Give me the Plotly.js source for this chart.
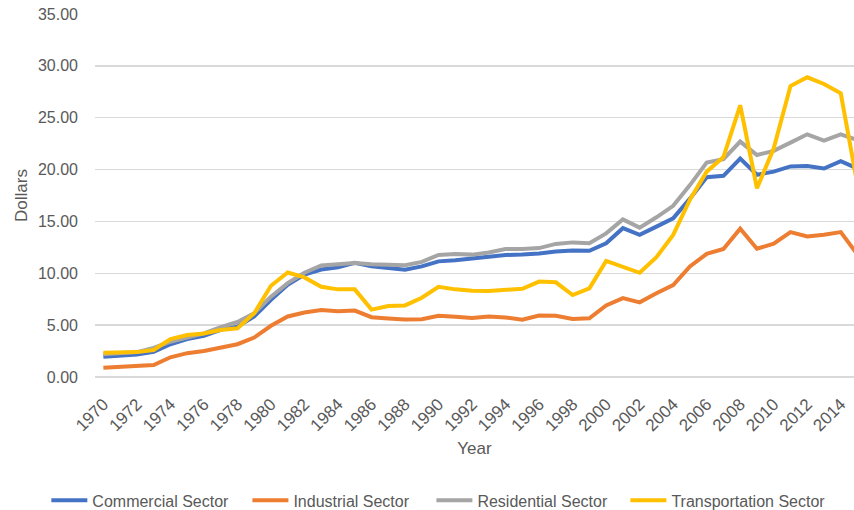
<!DOCTYPE html>
<html>
<head>
<meta charset="utf-8">
<script src="https://cdn.plot.ly/plotly-3.0.1.min.js"></script>
<style>html,body{margin:0;padding:0;background:#fff;}#chart{width:854px;height:510px;}</style>
</head>
<body>
<div id="chart"></div>
<script>
var years = [1970,1971,1972,1973,1974,1975,1976,1977,1978,1979,1980,1981,1982,1983,1984,1985,1986,1987,1988,1989,1990,1991,1992,1993,1994,1995,1996,1997,1998,1999,2000,2001,2002,2003,2004,2005,2006,2007,2008,2009,2010,2011,2012,2013,2014,2015];
var commercial = [1.95,2.03,2.16,2.42,3.16,3.65,3.97,4.55,4.85,5.84,7.45,8.9,9.87,10.36,10.57,11.0,10.67,10.5,10.35,10.67,11.15,11.25,11.4,11.58,11.77,11.8,11.9,12.1,12.2,12.17,12.9,14.35,13.7,14.5,15.3,17.2,19.26,19.4,21.06,19.5,19.8,20.3,20.35,20.1,20.8,20.1];
var industrial = [0.9,1.0,1.06,1.16,1.9,2.3,2.5,2.87,3.16,3.8,4.94,5.84,6.22,6.45,6.35,6.4,5.77,5.64,5.54,5.58,5.9,5.8,5.68,5.83,5.74,5.52,5.93,5.9,5.6,5.66,6.9,7.6,7.2,8.07,8.87,10.66,11.87,12.35,14.3,12.37,12.85,13.97,13.55,13.72,13.97,11.8];
var residential = [2.2,2.3,2.4,2.8,3.4,3.8,4.2,4.8,5.3,6.15,7.75,9.05,10.05,10.75,10.87,11.0,10.87,10.8,10.77,11.1,11.77,11.87,11.8,12.0,12.33,12.33,12.43,12.83,12.98,12.9,13.85,15.2,14.4,15.4,16.5,18.5,20.67,21.0,22.7,21.4,21.8,22.6,23.4,22.8,23.4,22.85];
var transportation = [2.35,2.4,2.4,2.6,3.65,4.05,4.2,4.53,4.7,6.15,8.8,10.08,9.6,8.7,8.45,8.45,6.5,6.85,6.9,7.64,8.7,8.45,8.32,8.3,8.36,8.5,9.2,9.13,7.9,8.55,11.2,10.6,10.05,11.55,13.7,17.1,19.8,21.2,26.2,18.2,22.05,28.05,28.9,28.25,27.35,18.5];
var seriesNames = ["Commercial Sector","Industrial Sector","Residential Sector","Transportation Sector"];
var seriesColors = ["#4472C4","#ED7D31","#A5A5A5","#FFC000"];
var seriesValues = [commercial, industrial, residential, transportation];

var FONT = "'Liberation Sans', Arial, sans-serif";
var GRAY = "#595959";
var legendIds = ['legend', 'legend2', 'legend3', 'legend4'];
var legendX = [-0.0641, 0.2008, 0.4432, 0.6988];

var traces = seriesValues.map(function(v, i){
  return {
    x: years, y: v, type: 'scatter', mode: 'lines', name: seriesNames[i],
    legend: legendIds[i],
    line: {color: seriesColors[i], width: 4}
  };
});

var layout = {
  width: 854, height: 510,
  margin: {l: 95, r: 0, t: 14, b: 133, pad: 0, autoexpand: false},
  paper_bgcolor: '#ffffff', plot_bgcolor: '#ffffff',
  font: {family: FONT, color: GRAY, size: 16},
  showlegend: true,
  xaxis: {
    range: [1969.5, 2014.79], tick0: 1970, dtick: 2, tickangle: -45,
    showgrid: false, zeroline: false, showline: false, ticks: '',
    ticklabelstandoff: 13,
    tickfont: {family: FONT, size: 17, color: GRAY},
    title: {text: 'Year', font: {family: FONT, size: 17, color: GRAY}, standoff: 8}
  },
  yaxis: {
    range: [0, 35], dtick: 5, tickformat: '.2f',
    showgrid: true, gridcolor: '#d9d9d9', gridwidth: 1.3,
    zeroline: true, zerolinecolor: '#d9d9d9', zerolinewidth: 1.3,
    showline: false, ticks: '', ticklabelstandoff: 16,
    tickfont: {family: FONT, size: 16, color: GRAY},
    title: {text: 'Dollars', font: {family: FONT, size: 17, color: GRAY}, standoff: 6}
  }
};
legendIds.forEach(function(id, i){
  layout[id] = {
    orientation: 'h', x: legendX[i], xanchor: 'left', y: -0.34, yanchor: 'middle',
    itemwidth: 36,
    font: {family: FONT, size: 16, color: GRAY}, bgcolor: 'rgba(0,0,0,0)'
  };
});

Plotly.newPlot('chart', traces, layout, {displayModeBar: false, staticPlot: true});
</script>
</body>
</html>
